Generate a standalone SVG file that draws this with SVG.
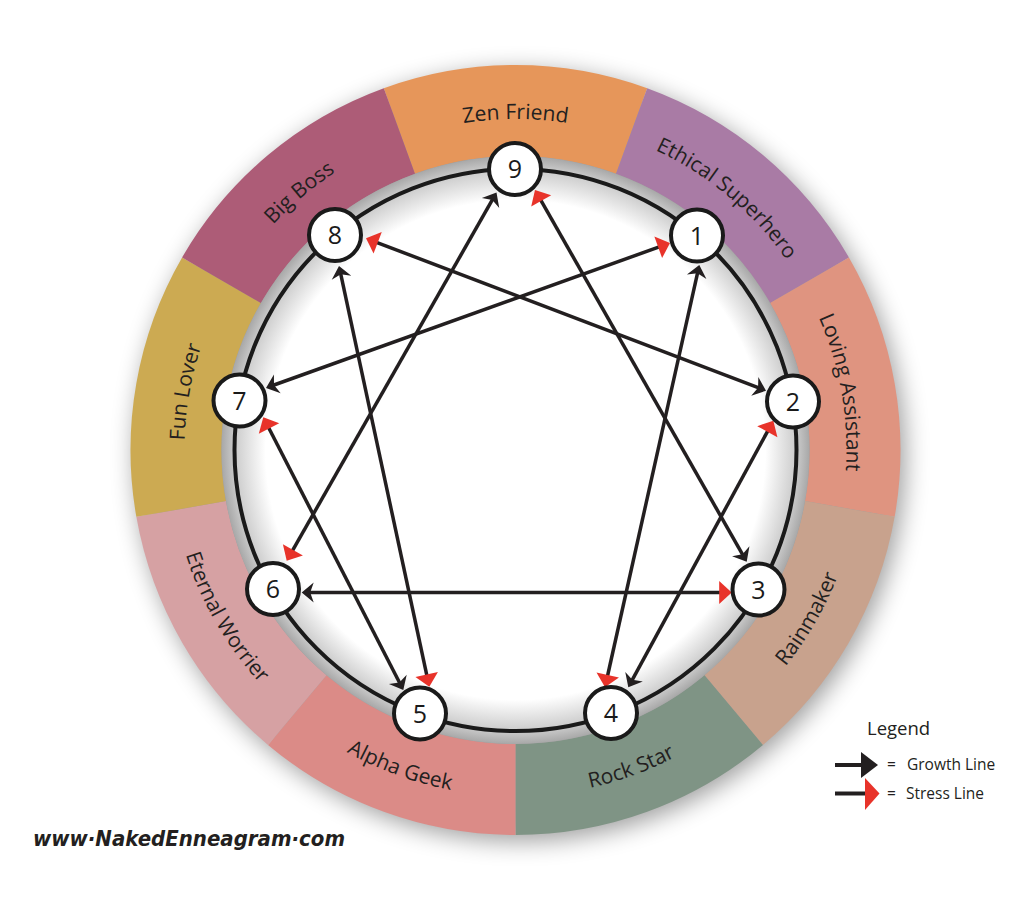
<svg xmlns="http://www.w3.org/2000/svg" width="1012" height="901" viewBox="0 0 1012 901">
<defs>
  <filter id="shadow" x="-20%" y="-20%" width="140%" height="140%">
    <feGaussianBlur stdDeviation="12"/>
  </filter>
  <radialGradient id="innerGrad" cx="515.5" cy="450" r="294" gradientUnits="userSpaceOnUse">
    <stop offset="0" stop-color="#ffffff"/>
    <stop offset="0.85" stop-color="#ffffff"/>
    <stop offset="0.955" stop-color="#cccccc"/>
    <stop offset="1" stop-color="#a8a8a8"/>
  </radialGradient>
  <path id="bh" d="M0,0 L-12,-10 L-8.5,0 L-12,10 Z"/>
  <path id="rh" d="M0,0 L-12.5,-11.5 L-12.5,11.5 Z"/>
  <path id="p9" d="M350,163.34 A331,331 0 0 1 681,163.34"/>
  <path id="p1" d="M572.98,124.03 A331,331 0 0 1 826.54,336.79"/>
  <path id="p2" d="M769.06,237.24 A331,331 0 0 1 826.54,563.21"/>
  <path id="p7" d="M204.46,563.21 A331,331 0 0 1 261.94,237.24"/>
  <path id="p8" d="M204.46,336.79 A331,331 0 0 1 458.02,124.03"/>
  <path id="p3" d="M688.5,749.65 A346,346 0 0 0 861.5,450"/>
  <path id="p4" d="M455.42,790.74 A346,346 0 0 0 780.55,672.41"/>
  <path id="p5" d="M250.45,672.41 A346,346 0 0 0 575.58,790.74"/>
  <path id="p6" d="M169.5,450 A346,346 0 0 0 342.5,749.65"/>
</defs>
<style>
  .lbl{font-family:"Open Sans","Noto Sans",sans-serif;font-size:21px;font-weight:500;fill:#231f20}
  .node circle{fill:#ffffff;stroke:#1a1a1a;stroke-width:4}
  .node text{font-family:"Open Sans","Noto Sans",sans-serif;font-size:25px;fill:#1a1a1a;text-anchor:middle}
  .ln{stroke:#231f20;stroke-width:3.5;fill:none}
  .b{fill:#231f20}
  .r{fill:#e8332a}
  .leg{font-family:"Open Sans","Noto Sans",sans-serif;fill:#231f20}
</style>
<rect width="1012" height="901" fill="#ffffff"/>

<g id="ring">
  <circle cx="520" cy="456" r="385" fill="#000" opacity="0.38" filter="url(#shadow)"/>
  <path id="seg9" fill="#E6965A" d="M383.82,88.22 A385,385 0 0 1 647.18,88.22 L616.05,173.73 A294,294 0 0 0 414.95,173.73 Z"/>
  <path id="seg1" fill="#A97BA5" d="M647.18,88.22 A385,385 0 0 1 848.92,257.5 L770.11,303 A294,294 0 0 0 616.05,173.73 Z"/>
  <path id="seg2" fill="#DF9480" d="M848.92,257.5 A385,385 0 0 1 894.65,516.86 L805.03,501.05 A294,294 0 0 0 770.11,303 Z"/>
  <path id="seg3" fill="#C8A28D" d="M894.65,516.86 A385,385 0 0 1 762.97,744.93 L704.48,675.22 A294,294 0 0 0 805.03,501.05 Z"/>
  <path id="seg4" fill="#7F9485" d="M762.97,744.93 A385,385 0 0 1 515.5,835 L515.5,744 A294,294 0 0 0 704.48,675.22 Z"/>
  <path id="seg5" fill="#DB8B87" d="M515.5,835 A385,385 0 0 1 268.03,744.93 L326.52,675.22 A294,294 0 0 0 515.5,744 Z"/>
  <path id="seg6" fill="#D6A1A3" d="M268.03,744.93 A385,385 0 0 1 136.35,516.86 L225.97,501.05 A294,294 0 0 0 326.52,675.22 Z"/>
  <path id="seg7" fill="#CCAA52" d="M136.35,516.86 A385,385 0 0 1 182.08,257.5 L260.89,303 A294,294 0 0 0 225.97,501.05 Z"/>
  <path id="seg8" fill="#AD5C77" d="M182.08,257.5 A385,385 0 0 1 383.82,88.22 L414.95,173.73 A294,294 0 0 0 260.89,303 Z"/>
  <circle cx="515.5" cy="450" r="294" fill="url(#innerGrad)"/>
  <circle cx="515.5" cy="450" r="281" fill="none" stroke="#1a1a1a" stroke-width="4"/>
</g>

<g id="labels">
  <text class="lbl"><textPath href="#p9" startOffset="50%" text-anchor="middle">Zen Friend</textPath></text>
  <text class="lbl"><textPath href="#p1" startOffset="50%" text-anchor="middle">Ethical Superhero</textPath></text>
  <text class="lbl"><textPath href="#p2" startOffset="50%" text-anchor="middle">Loving Assistant</textPath></text>
  <text class="lbl"><textPath href="#p3" startOffset="50%" text-anchor="middle">Rainmaker</textPath></text>
  <text class="lbl"><textPath href="#p4" startOffset="50%" text-anchor="middle">Rock Star</textPath></text>
  <text class="lbl"><textPath href="#p5" startOffset="50%" text-anchor="middle">Alpha Geek</textPath></text>
  <text class="lbl"><textPath href="#p6" startOffset="50%" text-anchor="middle">Eternal Worrier</textPath></text>
  <text class="lbl"><textPath href="#p7" startOffset="50%" text-anchor="middle">Fun Lover</textPath></text>
  <text class="lbl"><textPath href="#p8" startOffset="50%" text-anchor="middle">Big Boss</textPath></text>
</g>

<g id="connectors">
  <line class="ln" x1="272.6" y1="385.5" x2="663.4" y2="245.4"/>
  <line class="ln" x1="697.8" y1="271.8" x2="606.5" y2="680.5"/>
  <line class="ln" x1="631.6" y1="681.1" x2="770" y2="426.8"/>
  <line class="ln" x1="759.5" y1="388.2" x2="372.5" y2="240.8"/>
  <line class="ln" x1="340.5" y1="272.8" x2="427.8" y2="679.9"/>
  <line class="ln" x1="400.1" y1="683.8" x2="266.5" y2="423.5"/>
  <line class="ln" x1="743.2" y1="555.6" x2="538.5" y2="196.1"/>
  <line class="ln" x1="308.7" y1="592.5" x2="724.7" y2="592.5"/>
  <line class="ln" x1="493.0" y1="198.7" x2="290.2" y2="554.6"/>

  <use href="#bh" class="b" transform="translate(266,387.9) rotate(160.27)"/>
  <use href="#rh" class="r" transform="translate(670,243) rotate(-19.73)"/>
  <use href="#bh" class="b" transform="translate(699.3,265) rotate(-77.41)"/>
  <use href="#rh" class="r" transform="translate(605,687.3) rotate(102.59)"/>
  <use href="#bh" class="b" transform="translate(628.3,687.3) rotate(118.54)"/>
  <use href="#rh" class="r" transform="translate(773.3,420.7) rotate(-61.46)"/>
  <use href="#bh" class="b" transform="translate(766,390.7) rotate(20.86)"/>
  <use href="#rh" class="r" transform="translate(366,238.3) rotate(-159.14)"/>
  <use href="#bh" class="b" transform="translate(339,266) rotate(-102.11)"/>
  <use href="#rh" class="r" transform="translate(429.3,686.7) rotate(77.89)"/>
  <use href="#bh" class="b" transform="translate(403.3,690) rotate(62.82)"/>
  <use href="#rh" class="r" transform="translate(263.3,417.3) rotate(-117.18)"/>
  <use href="#bh" class="b" transform="translate(746.7,561.7) rotate(60.33)"/>
  <use href="#rh" class="r" transform="translate(535,190) rotate(-119.67)"/>
  <use href="#bh" class="b" transform="translate(301.7,592.5) rotate(180)"/>
  <use href="#rh" class="r" transform="translate(731.7,592.5)"/>
  <use href="#bh" class="b" transform="translate(496.5,192.6) rotate(-60.32)"/>
  <use href="#rh" class="r" transform="translate(286.7,560.7) rotate(119.68)"/>
</g>

<g id="node9" class="node"><circle cx="515" cy="169" r="26"/><text x="515" y="178">9</text></g>
<g id="node1" class="node"><circle cx="697" cy="235.5" r="26"/><text x="697" y="244.5">1</text></g>
<g id="node2" class="node"><circle cx="793" cy="401.5" r="26"/><text x="793" y="410.5">2</text></g>
<g id="node3" class="node"><circle cx="758.5" cy="589.5" r="26"/><text x="758.5" y="598.5">3</text></g>
<g id="node4" class="node"><circle cx="611" cy="713" r="26"/><text x="611" y="722">4</text></g>
<g id="node5" class="node"><circle cx="420" cy="713.5" r="26"/><text x="420" y="722.5">5</text></g>
<g id="node6" class="node"><circle cx="273" cy="589" r="26"/><text x="273" y="598">6</text></g>
<g id="node7" class="node"><circle cx="239.5" cy="400.5" r="26"/><text x="239.5" y="409.5">7</text></g>
<g id="node8" class="node"><circle cx="335" cy="235" r="26"/><text x="335" y="244">8</text></g>

<g id="legend">
  <text class="leg" x="867" y="735" font-size="18.5">Legend</text>
  <line x1="835" y1="765" x2="864" y2="765" stroke="#231f20" stroke-width="4"/>
  <path class="b" d="M878,765 L861,752 L861,778 Z"/>
  <text class="leg" x="887" y="770" font-size="15.5">=</text>
  <text class="leg" x="907" y="770" font-size="15.5">Growth Line</text>
  <line x1="835" y1="793.5" x2="867" y2="793.5" stroke="#231f20" stroke-width="4"/>
  <path class="r" d="M879.5,793.5 L865,778 L865,810 Z"/>
  <text class="leg" x="887" y="799" font-size="15.5">=</text>
  <text class="leg" x="906" y="799" font-size="15.5">Stress Line</text>
</g>

<g id="website">
  <text x="33" y="846" font-family="'Comic Sans MS','DejaVu Sans',sans-serif" font-style="italic" font-weight="bold" font-size="21" fill="#231f20" textLength="312" lengthAdjust="spacingAndGlyphs">www·NakedEnneagram·com</text>
</g>
</svg>
